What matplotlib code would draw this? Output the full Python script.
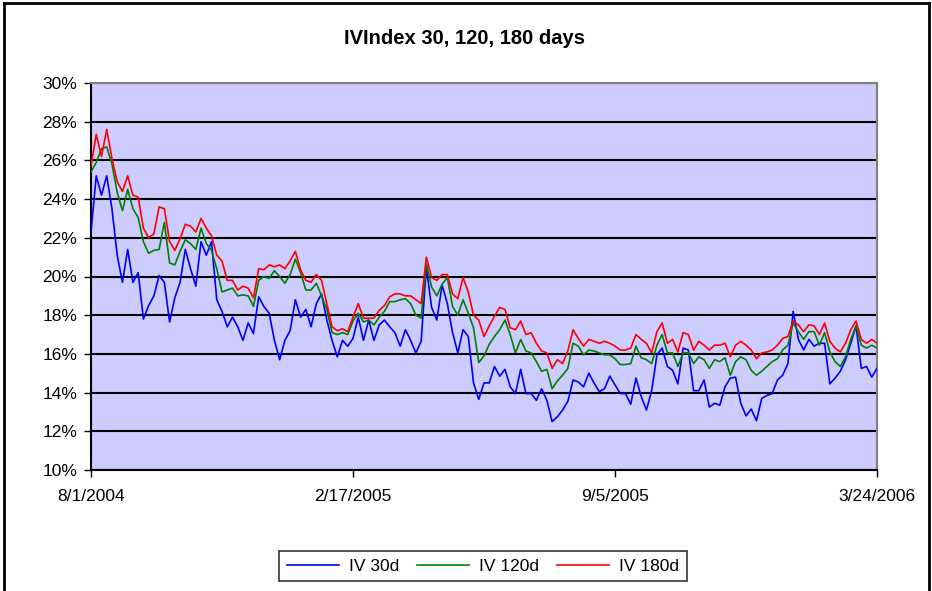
import matplotlib
matplotlib.use("Agg")
import matplotlib.pyplot as plt
from matplotlib.lines import Line2D
import pandas as pd

plt.rcParams["font.family"] = ["Liberation Sans", "DejaVu Sans"]

# readings every 4 days from 8/1/2004 to 3/24/2006
dates = pd.date_range("2004-08-01", periods=151, freq="4D")

iv30 = [
    22.3, 25.2, 24.2, 25.2, 23.5, 21.1, 19.7, 21.4, 19.7, 20.2,
    17.8, 18.5, 19.0, 20.05, 19.7, 17.65, 18.9, 19.7, 21.4, 20.4,
    19.5, 21.8, 21.1, 21.8, 18.8, 18.2, 17.4, 17.9, 17.4, 16.7,
    17.6, 17.05, 18.95, 18.45, 18.1, 16.7, 15.7, 16.7, 17.2, 18.8,
    17.9, 18.3, 17.4, 18.6, 19.1, 17.75, 16.7, 15.85, 16.7, 16.4,
    16.8, 17.9, 16.7, 17.75, 16.7, 17.5, 17.75, 17.4, 17.1, 16.4,
    17.25, 16.7, 16.05, 16.65, 20.45, 18.4, 17.75, 19.55, 18.6, 17.1,
    16.05, 17.25, 16.9, 14.5, 13.65, 14.5, 14.5, 15.35, 14.85, 15.2,
    14.3, 13.95, 15.2, 13.95, 13.95, 13.6, 14.2, 13.6, 12.5, 12.75,
    13.1, 13.55, 14.65, 14.55, 14.3, 15.0, 14.5, 14.05, 14.2, 14.85,
    14.4, 13.95, 13.95, 13.4, 14.75, 13.8, 13.1, 14.1, 15.95, 16.3,
    15.35, 15.15, 14.45, 16.3, 16.2, 14.1, 14.1, 14.65, 13.25, 13.45,
    13.35, 14.3, 14.75, 14.8, 13.45, 12.8, 13.15, 12.55, 13.7, 13.85,
    13.95, 14.65, 14.9, 15.5, 18.2, 16.75, 16.2, 16.75, 16.4, 16.55,
    16.55, 14.45, 14.75, 15.1, 15.7, 16.55, 17.45, 15.25, 15.35, 14.8,
    15.25,
]

iv120 = [
    25.4, 25.9, 26.6, 26.7, 25.8, 24.35, 23.4, 24.5, 23.5, 23.05,
    21.8, 21.2, 21.35, 21.4, 22.8, 20.7, 20.6, 21.3, 21.9, 21.7,
    21.4, 22.5, 21.7, 21.35, 20.4, 19.2, 19.3, 19.4, 19.0, 19.05,
    19.0, 18.45, 19.8, 20.0, 19.9, 20.3, 20.0, 19.65, 20.1, 20.9,
    20.2, 19.3, 19.3, 19.65, 19.0, 18.3, 17.1, 17.0, 17.1, 17.0,
    17.7, 18.1, 17.65, 17.75, 17.5, 17.9, 18.2, 18.7, 18.7, 18.8,
    18.85, 18.6, 18.0, 17.85, 20.65, 19.45, 19.0, 19.6, 19.95, 18.45,
    18.0, 18.8, 18.1, 17.35, 15.55, 15.9, 16.5, 16.9, 17.25, 17.75,
    17.0, 16.05, 16.75, 16.15, 16.05, 15.6, 15.1, 15.2, 14.2, 14.6,
    14.9, 15.25, 16.55, 16.4, 15.95, 16.2, 16.15, 16.05, 15.95, 15.95,
    15.75, 15.45, 15.45, 15.5, 16.4, 15.8, 15.7, 15.5, 16.45, 17.0,
    16.05, 16.05, 15.35, 16.05, 16.05, 15.5, 15.85, 15.7, 15.25, 15.7,
    15.6, 15.8, 14.9, 15.6, 15.85, 15.7, 15.15, 14.9, 15.1, 15.35,
    15.6, 15.75, 16.2, 16.45, 17.6, 17.15, 16.75, 17.15, 17.15, 16.45,
    17.1, 16.1, 15.6, 15.35, 15.85, 16.75, 17.45, 16.45, 16.3, 16.45,
    16.3,
]

iv180 = [
    25.7, 27.35, 26.2, 27.6, 26.1, 24.9, 24.4, 25.2, 24.2, 24.1,
    22.5, 22.0, 22.2, 23.6, 23.5, 21.8, 21.35, 21.95, 22.7, 22.6,
    22.3, 23.0, 22.5, 22.1, 21.1, 20.8, 19.8, 19.8, 19.3, 19.5,
    19.4, 18.9, 20.4, 20.35, 20.6, 20.5, 20.6, 20.4, 20.8, 21.3,
    20.35, 19.8, 19.7, 20.1, 19.8, 18.6, 17.4, 17.2, 17.3, 17.15,
    17.9, 18.6, 17.85, 17.85, 17.85, 18.25, 18.5, 18.95, 19.1, 19.1,
    19.0, 19.0, 18.8, 18.6, 21.0, 19.95, 19.8, 20.1, 20.1, 19.1,
    18.85, 19.95, 19.2, 18.0, 17.75, 16.9, 17.45, 17.95, 18.4, 18.3,
    17.35, 17.25, 17.7, 17.0, 17.1, 16.55, 16.15, 16.05, 15.25, 15.7,
    15.5, 16.15, 17.25, 16.8, 16.4, 16.75, 16.65, 16.55, 16.65, 16.55,
    16.4, 16.2, 16.2, 16.3, 17.0, 16.75, 16.55, 16.05, 17.15, 17.6,
    16.55, 16.75, 16.1, 17.1, 17.0, 16.2, 16.65, 16.45, 16.2, 16.45,
    16.45, 16.55, 15.85, 16.45, 16.65, 16.45, 16.2, 15.75, 16.05, 16.1,
    16.2, 16.45, 16.8, 16.9, 17.7, 17.5, 17.15, 17.5, 17.45, 17.0,
    17.6, 16.65, 16.3, 16.1, 16.55, 17.25, 17.7, 16.75, 16.55, 16.75,
    16.55,
]

tick_dates = pd.to_datetime(["2004-08-01", "2005-02-17", "2005-09-05", "2006-03-24"])
tick_labels = ["8/1/2004", "2/17/2005", "9/5/2005", "3/24/2006"]
y_ticks = [10, 12, 14, 16, 18, 20, 22, 24, 26, 28, 30]

fig = plt.figure(figsize=(9.32, 5.91), dpi=100)
ax = fig.add_axes([91 / 932, 1 - 470 / 591, 786 / 932, 387 / 591])
ax.set_facecolor("#CCCCFF")

ax.plot(dates, iv30, color="#0000FF", lw=1.2, label="IV 30d", zorder=3)
ax.plot(dates, iv120, color="#008000", lw=1.2, label="IV 120d", zorder=3)
ax.plot(dates, iv180, color="#FF0000", lw=1.2, label="IV 180d", zorder=3)

ax.set_xlim(tick_dates[0], tick_dates[-1])
ax.set_ylim(10, 30)
ax.set_xticks(tick_dates)
ax.set_xticklabels(tick_labels, fontsize=12.5)
ax.set_yticks(y_ticks)
ax.set_yticklabels([f"{v}%" for v in y_ticks], fontsize=12.5)
ax.tick_params(axis="both", direction="out", length=5, width=1, color="black", pad=5)
ax.tick_params(axis="x", pad=9)

ax.grid(axis="y", color="black", lw=1.5, zorder=1)
ax.set_axisbelow(True)
for s in ["top", "right"]:
    ax.spines[s].set_color("#808080")
    ax.spines[s].set_linewidth(1.5)
for s in ["left", "bottom"]:
    ax.spines[s].set_color("black")
    ax.spines[s].set_linewidth(1.5)

fig.text(465 / 932, 1 - 38 / 591, "IVIndex 30, 120, 180 days",
         ha="center", va="center", fontsize=14.5, fontweight="bold")

leg = fig.legend(loc="center", bbox_to_anchor=(483 / 932, 1 - 566 / 591),
                 ncol=3, fontsize=12.5, frameon=True, fancybox=False,
                 handlelength=3.0, handletextpad=0.6, columnspacing=1.0,
                 borderpad=0.45)
leg.get_frame().set_edgecolor("black")
leg.get_frame().set_linewidth(1.2)

# outer chart frame
fig.add_artist(Line2D([4 / 932, 4 / 932], [0, 1 - 3 / 591], color="black", lw=2,
                      transform=fig.transFigure))
fig.add_artist(Line2D([929 / 932, 929 / 932], [0, 1 - 3 / 591], color="black", lw=2,
                      transform=fig.transFigure))
fig.add_artist(Line2D([4 / 932, 929 / 932], [1 - 3 / 591, 1 - 3 / 591], color="black",
                      lw=2, transform=fig.transFigure))

fig.savefig("out.png", dpi=100)
